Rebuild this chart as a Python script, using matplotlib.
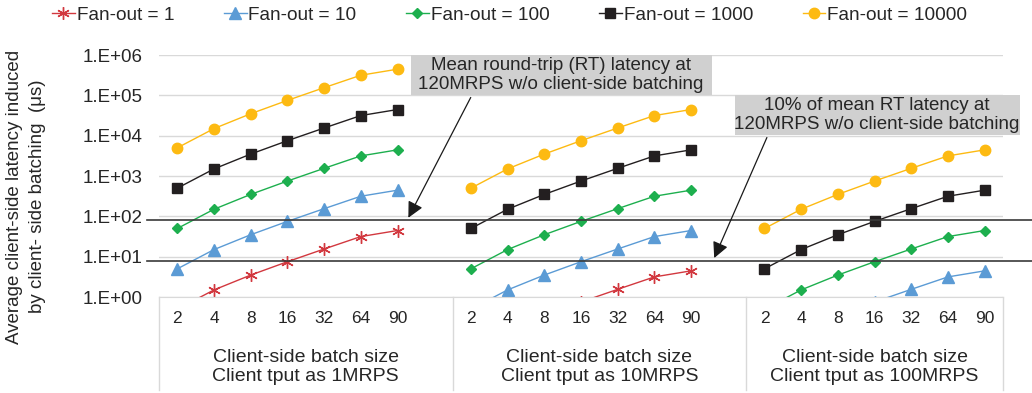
import numpy as np
import matplotlib
matplotlib.use('Agg')
import matplotlib.pyplot as plt
from matplotlib.patches import Rectangle
import matplotlib.transforms as mtransforms

plt.rcParams['font.family'] = ['Liberation Sans', 'DejaVu Sans']

# categories
batch = ['2', '4', '8', '16', '32', '64', '90']
groups = ['Client-side batch size\nClient tput as 1MRPS',
          'Client-side batch size\nClient tput as 10MRPS',
          'Client-side batch size\nClient tput as 100MRPS']

# latency (us) per fan-out, 7 points per group (1MRPS, 10MRPS, 100MRPS)
fo1 = [0.5, 1.5, 3.5, 7.5, 15.5, 31.5, 44.5,
       0.05, 0.15, 0.35, 0.75, 1.55, 3.15, 4.45,
       0.005, 0.015, 0.035, 0.075, 0.155, 0.315, 0.445]
fo10 = [5, 15, 35, 75, 155, 315, 445,
        0.5, 1.5, 3.5, 7.5, 15.5, 31.5, 44.5,
        0.05, 0.15, 0.35, 0.75, 1.55, 3.15, 4.45]
fo100 = [50, 150, 350, 750, 1550, 3150, 4450,
         5, 15, 35, 75, 155, 315, 445,
         0.5, 1.5, 3.5, 7.5, 15.5, 31.5, 44.5]
fo1000 = [500, 1500, 3500, 7500, 15500, 31500, 44500,
          50, 150, 350, 750, 1550, 3150, 4450,
          5, 15, 35, 75, 155, 315, 445]
fo10000 = [5000, 15000, 35000, 75000, 155000, 315000, 445000,
           500, 1500, 3500, 7500, 15500, 31500, 44500,
           50, 150, 350, 750, 1550, 3150, 4450]

rt_mean = 80     # mean RT latency at 120MRPS
rt_10pct = 8     # 10% of it

series = [
    ('Fan-out = 1', fo1, '#D2383F', (6, 2, 0), 9),
    ('Fan-out = 10', fo10, '#5B9BD5', '^', 8),
    ('Fan-out = 100', fo100, '#1DAF4E', 'D', 5.5),
    ('Fan-out = 1000', fo1000, '#231F20', 's', 7),
    ('Fan-out = 10000', fo10000, '#FDBA12', 'o', 7.5),
]

# x positions: 7 per group with a blank slot between groups
xpos = [g * 8 + i for g in range(3) for i in range(7)]

fig = plt.figure(figsize=(10.32, 3.93), dpi=100)
ax = fig.add_axes([159 / 1032, 96 / 393, 844 / 1032, 242 / 393])

for name, vals, col, mk, ms in series:
    for g in range(3):
        xs = xpos[g * 7:(g + 1) * 7]
        ys = vals[g * 7:(g + 1) * 7]
        ax.plot(xs, ys, color=col, marker=mk, ms=ms, lw=1, mew=1,
                label=name if g == 0 else None)

ax.set_yscale('log')
ax.set_ylim(1, 1e6)
ax.set_xlim(-0.5, 22.5)
ax.set_yticks([10 ** k for k in range(7)])
ax.set_yticklabels(['1.E+%02d' % k for k in range(7)], fontsize=13.5, color='#262626')
ax.minorticks_off()
ax.tick_params(axis='y', length=0, pad=12)
ax.set_xticks(xpos)
ax.set_xticklabels(batch * 3, fontsize=12.5, color='#262626')
ax.tick_params(axis='x', length=0, pad=10)
ax.grid(axis='y', color='#D9D9D9', lw=1)
ax.set_axisbelow(True)
for s in ['left', 'right', 'top']:
    ax.spines[s].set_visible(False)
ax.spines['bottom'].set_color('#D9D9D9')

# category box separators
for xb in [-0.5, 7.5, 15.5, 22.5]:
    trans = mtransforms.blended_transform_factory(ax.transData, ax.transAxes)
    ax.plot([xb, xb], [0, -0.385], color='#D9D9D9', lw=1, transform=trans, clip_on=False)

for g, lab in enumerate(groups):
    trans = mtransforms.blended_transform_factory(ax.transData, ax.transAxes)
    ax.text(g * 8 + 3.5 if g < 2 else 19, -0.29, lab, transform=trans, ha='center', va='center',
            fontsize=14, color='#262626', linespacing=1.15)

# reference lines
transh = mtransforms.blended_transform_factory(ax.transAxes, ax.transData)
for yv in [rt_mean, rt_10pct]:
    ax.plot([-0.014, 1.035], [yv, yv], color='#3A3A3A', lw=1.2, transform=transh, clip_on=False)

# annotation boxes
fig.patches.append(Rectangle((411, 393 - 95), 301, 40, transform=None,
                             facecolor='#D0D0D0', edgecolor='none', figure=fig, zorder=3))
fig.text(561 / 1032, (393 - 75) / 393, 'Mean round-trip (RT) latency at\n120MRPS w/o client-side batching',
         ha='center', va='center', fontsize=13.5, color='#262626', linespacing=1.1, zorder=4)
fig.patches.append(Rectangle((735, 393 - 135), 285, 40, transform=None,
                             facecolor='#D0D0D0', edgecolor='none', figure=fig, zorder=3))
fig.text(877 / 1032, (393 - 115) / 393, '10% of mean RT latency at\n120MRPS w/o client-side batching',
         ha='center', va='center', fontsize=13.5, color='#262626', linespacing=1.1, zorder=4)

ax.annotate('', xy=(6.26, rt_mean), xycoords='data', xytext=(472, 393 - 95),
            textcoords='figure pixels',
            arrowprops=dict(arrowstyle='-|>', color='#1A1A1A', lw=0.9, mutation_scale=24))
ax.annotate('', xy=(14.6, rt_10pct), xycoords='data', xytext=(768, 393 - 135),
            textcoords='figure pixels',
            arrowprops=dict(arrowstyle='-|>', color='#1A1A1A', lw=0.9, mutation_scale=24))

fig.text(26 / 1032, 0.5, 'Average client-side latency induced\nby client- side batching  (\u03bcs)',
         rotation=90, ha='center', va='center', fontsize=13.5, color='#262626',
         multialignment='center', linespacing=1.45)

fig.legend(loc='center left', bbox_to_anchor=(52 / 1032, 1 - 15 / 393), ncol=5,
           frameon=False, fontsize=13.7, handlelength=1.2, handletextpad=0.1,
           columnspacing=2.6, borderpad=0, borderaxespad=0, labelcolor='#262626')

fig.savefig('out.png', dpi=100)
